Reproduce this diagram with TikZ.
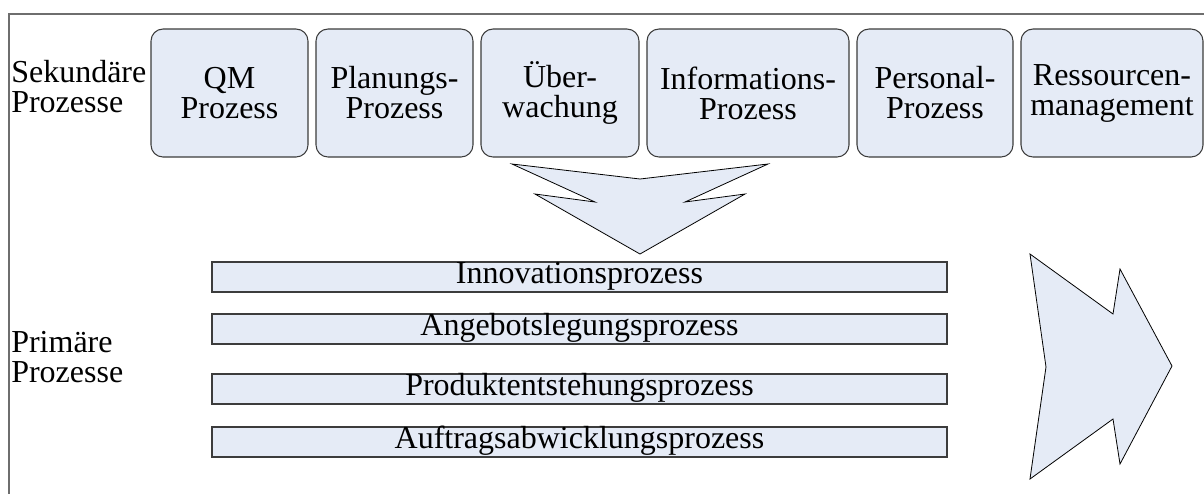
\documentclass[tikz,border=0pt]{standalone}
\usepackage{fontspec}
\setmainfont{Liberation Serif}
\definecolor{procfill}{RGB}{229,235,246}
\definecolor{procline}{RGB}{60,60,60}
\definecolor{framegray}{RGB}{110,110,110}
\begin{document}
\begin{tikzpicture}[x=0.75pt,y=-0.75pt,
  every node/.style={font=\fontsize{24pt}{22.5pt}\selectfont},
  secbox/.style={draw=procline,fill=procfill,line width=0.8pt,rounded corners=9pt,
    minimum height=96pt,align=center,inner sep=0pt},
  primbar/.style={draw=procline,fill=procfill,line width=0.8pt,
    minimum width=551.25pt,minimum height=22.5pt,inner sep=0pt,
    text height=13pt,text depth=4pt},
  bigarrow/.style={draw=black,fill=procfill,line width=0.6pt,line join=miter},
  sidelabel/.style={align=left,anchor=west,inner sep=0pt}]
  \useasboundingbox (0,0) rectangle (1204,494);
  % outer frame (open to the right and bottom)
  \draw[framegray,line width=1pt] (1204,14) -- (9,14) -- (9,494);

  % secondary processes
  \node[sidelabel] (seklabel) at (11,86.5) {Sekundäre\\Prozesse};
  \node[secbox,minimum width=117.75pt] (qm)   at (229.5,93) {QM\\Prozess};
  \node[secbox,minimum width=117.75pt] (plan) at (394.5,93) {Planungs-\\Prozess};
  \node[secbox,minimum width=118.5pt]  (ueb)  at (560,93)   {Über-\\wachung};
  \node[secbox,minimum width=151.5pt]  (info) at (748,93)   {Informations-\\Prozess};
  \node[secbox,minimum width=117pt]    (pers) at (935,93)   {Personal-\\Prozess};
  \node[secbox,minimum width=136.5pt]  (res)  at (1112,93)  {Ressourcen-\\management};

  % downward arrow from secondary to primary processes
  \draw[bigarrow] (512,164) -- (640,179) -- (768,164) -- (685,202) -- (745,194)
    -- (640,254) -- (535,194) -- (595,202) -- cycle;

  % primary processes
  \node[sidelabel] (primlabel) at (11,357) {Primäre\\Prozesse};
  \node[primbar] (inno) at (579.5,277) {Innovationsprozess};
  \node[primbar] (ange) at (579.5,329) {Angebotslegungsprozess};
  \node[primbar] (prod) at (579.5,389) {Produktentstehungsprozess};
  \node[primbar] (auft) at (579.5,442) {Auftragsabwicklungsprozess};

  % arrow pointing to the right
  \draw[bigarrow] (1030,254) -- (1113,314) -- (1120,269) -- (1172,366)
    -- (1120,464) -- (1113,419) -- (1030,479) -- (1046,367) -- cycle;
\end{tikzpicture}
\end{document}
